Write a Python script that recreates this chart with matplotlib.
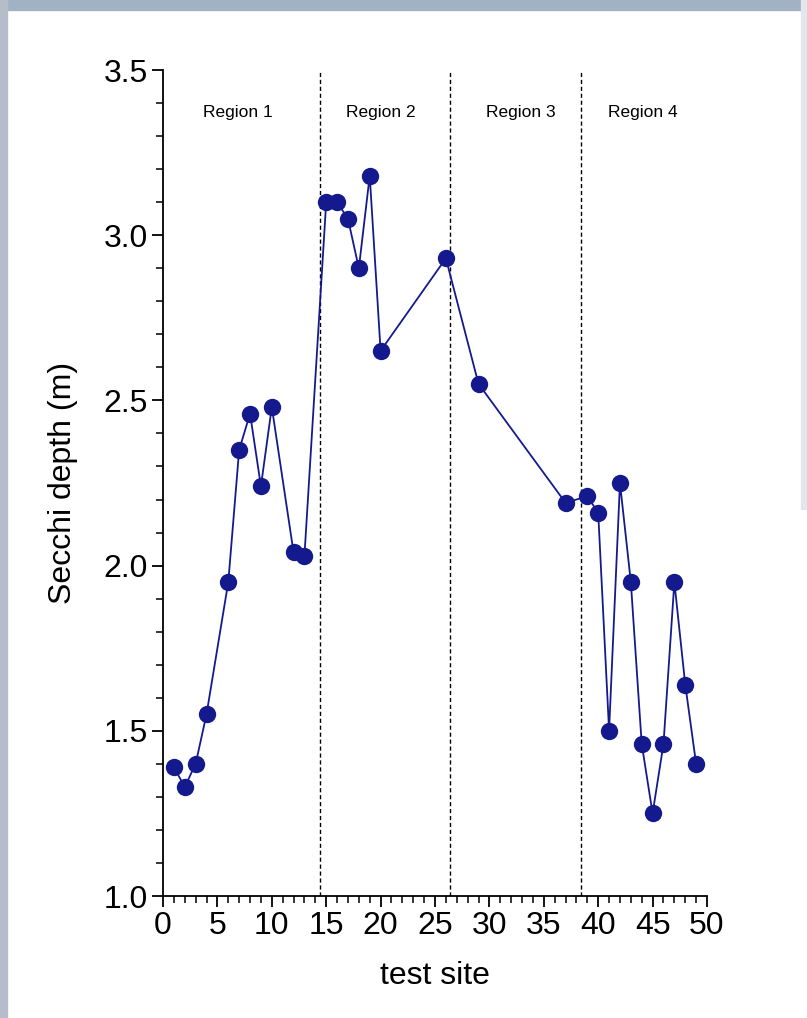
import matplotlib.pyplot as plt
from matplotlib.patches import Rectangle
from matplotlib.ticker import MultipleLocator

plt.rcParams['font.family'] = ['Liberation Sans', 'DejaVu Sans']

# data
site = [1, 2, 3, 4, 6, 7, 8, 9, 10, 12, 13, 15, 16, 17, 18, 19, 20, 26, 29, 37,
        39, 40, 41, 42, 43, 44, 45, 46, 47, 48, 49]
secchi = [1.39, 1.33, 1.40, 1.55, 1.95, 2.35, 2.46, 2.24, 2.48, 2.04, 2.03,
          3.10, 3.10, 3.05, 2.90, 3.18, 2.65, 2.93, 2.55, 2.19,
          2.21, 2.16, 1.50, 2.25, 1.95, 1.46, 1.25, 1.46, 1.95, 1.64, 1.40]
region_bounds = [14.4, 26.4, 38.4]
region_names = ["Region 1", "Region 2", "Region 3", "Region 4"]
region_centers = [6.9, 20.0, 32.9, 44.1]

fig = plt.figure(figsize=(8.07, 10.18), dpi=100)
fig.patch.set_facecolor('white')

# window-like frame around the page
fig.patches.append(Rectangle((0, 1 - 10 / 1018), 1, 10 / 1018, transform=fig.transFigure,
                             color='#a3b1c4', zorder=0))
fig.patches.append(Rectangle((0, 0), 7 / 807, 1, transform=fig.transFigure,
                             color='#b4bdc9', zorder=0))
fig.patches.append(Rectangle((1 - 6 / 807, 0.5), 6 / 807, 0.5, transform=fig.transFigure,
                             color='#e3e6ea', zorder=0))

ax = fig.add_axes([163 / 807, 1 - 896 / 1018, 544 / 807, 826 / 1018])

ax.plot(site, secchi, color='#141a8e', lw=1.3, marker='o', ms=12.5,
        markeredgewidth=0, zorder=3)

ax.vlines(region_bounds, 1.0, 3.5, colors='black', linestyles=(0, (3, 2)), lw=1.0, zorder=2)
for cx, name in zip(region_centers, region_names):
    ax.text(cx, 3.37, name, ha='center', va='center', fontsize=12.5)

ax.set_xlim(0, 50)
ax.set_ylim(1.0, 3.5)
ax.xaxis.set_major_locator(MultipleLocator(5))
ax.xaxis.set_minor_locator(MultipleLocator(1))
ax.yaxis.set_major_locator(MultipleLocator(0.5))
ax.yaxis.set_minor_locator(MultipleLocator(0.1))
ax.yaxis.set_major_formatter(plt.FormatStrFormatter('%.1f'))

for s in ['top', 'right']:
    ax.spines[s].set_visible(False)
for s in ['left', 'bottom']:
    ax.spines[s].set_linewidth(1.3)
ax.tick_params(which='major', direction='out', length=8, width=1.3, labelsize=23, pad=3)
ax.tick_params(which='minor', direction='out', length=5, width=1.1)

ax.set_xlabel("test site", fontsize=23, labelpad=14)
ax.set_ylabel("Secchi depth (m)", fontsize=23, labelpad=18)

fig.savefig("out.png", dpi=100)
